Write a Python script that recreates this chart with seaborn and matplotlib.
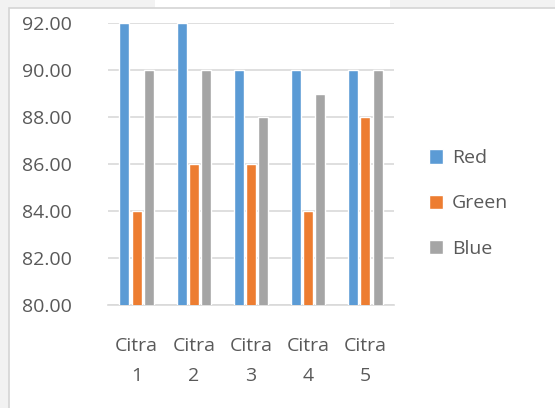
import matplotlib
matplotlib.use("Agg")
import matplotlib.pyplot as plt
import seaborn as sns
import pandas as pd
from matplotlib.patches import Rectangle

# data
categories = ["Citra\n1", "Citra\n2", "Citra\n3", "Citra\n4", "Citra\n5"]
red_vals = [92, 92, 90, 90, 90]
green_vals = [84, 86, 86, 84, 88]
blue_vals = [90, 90, 88, 89, 90]
series = ["Red", "Green", "Blue"]
colors = ["#5B9BD5", "#ED7D31", "#A5A5A5"]
yticks = [80, 82, 84, 86, 88, 90, 92]

df = pd.DataFrame({"Kategori": categories, "Red": red_vals, "Green": green_vals, "Blue": blue_vals})
long_df = df.melt(id_vars="Kategori", value_vars=series, var_name="Seri", value_name="Nilai")

sns.set_style("white")
plt.rcParams["font.family"] = ["Open Sans", "DejaVu Sans"]
txt_color = "#595959"
grid_color = "#D9D9D9"
fs = 14

fig = plt.figure(figsize=(5.55, 4.08), dpi=100)
fig.patch.set_facecolor("#F2F2F2")
# chart frame (drawn behind the axes)
fig.patches.append(Rectangle((155 / 555, 0), 235 / 555, 1, transform=fig.transFigure,
                             facecolor="white", edgecolor="none", zorder=-10))
fig.patches.append(Rectangle((9 / 555, -0.01), 1.0, 1 - 8 / 408 + 0.01, transform=fig.transFigure,
                             facecolor="white", edgecolor="#D4D4D4", linewidth=1.2, zorder=-9))

# plot area: 80 at y=305px, 92 at y=23px
ax = fig.add_axes([108 / 555, 1 - 305 / 408, 286 / 555, 282 / 408])
ax.set_facecolor("none")

sns.barplot(data=long_df, x="Kategori", y="Nilai", hue="Seri", hue_order=series,
            palette=colors, width=0.64, saturation=1, ax=ax, legend=True, zorder=3)

# shrink bars a bit to leave small gaps like the original
for p in ax.patches:
    w = p.get_width()
    p.set_x(p.get_x() + w * 0.09)
    p.set_width(w * 0.82)

ax.set_ylim(80, 92)
ax.set_yticks(yticks)
ax.set_yticklabels([f"{v:.2f}" for v in yticks])
ax.yaxis.grid(True, color=grid_color, linewidth=1.2, zorder=0)
ax.set_axisbelow(True)
for s in ["top", "right", "left"]:
    ax.spines[s].set_visible(False)
ax.spines["bottom"].set_color(grid_color)
ax.spines["bottom"].set_linewidth(1.2)

ax.tick_params(axis="y", length=0, pad=26, labelsize=fs, labelcolor=txt_color)
ax.tick_params(axis="x", length=0, pad=23, labelsize=fs, labelcolor=txt_color)
for lbl in ax.get_xticklabels():
    lbl.set_linespacing(1.85)
ax.set_xlabel("")
ax.set_ylabel("")

leg = ax.legend(loc="center left", bbox_to_anchor=(1.06, 0.36), frameon=False,
                fontsize=fs, handlelength=0.75, handleheight=0.75, handletextpad=0.45,
                labelspacing=1.4)
for t in leg.get_texts():
    t.set_color(txt_color)

fig.savefig("out.png", dpi=100, facecolor=fig.get_facecolor())
